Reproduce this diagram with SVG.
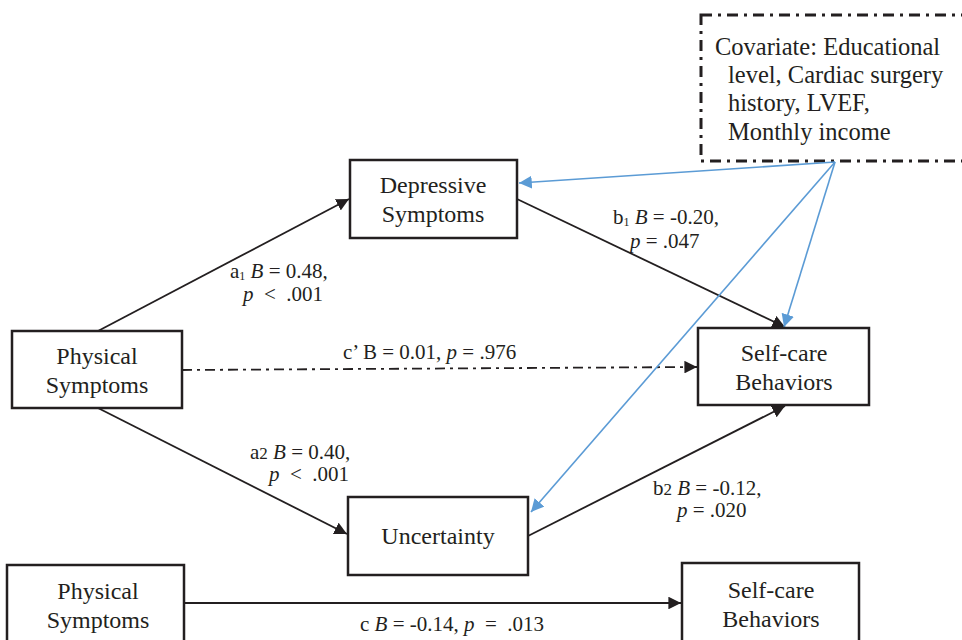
<svg xmlns="http://www.w3.org/2000/svg" width="962" height="640" viewBox="0 0 962 640">
<defs>
<style>
.box{fill:#fff;stroke:#231f20;stroke-width:2.5}
.nt{font-family:"Liberation Serif","Times New Roman",serif;font-size:24px;fill:#231f20;text-anchor:middle}
.lb{font-family:"Liberation Serif","Times New Roman",serif;font-size:21px;fill:#231f20}
.cv{font-family:"Liberation Serif","Times New Roman",serif;font-size:24.5px;fill:#231f20}
.blk{stroke:#231f20;stroke-width:1.8;fill:none;marker-end:url(#ab)}
.blu{stroke:#5b9bd5;stroke-width:1.6;fill:none;marker-end:url(#au)}
</style>
<marker id="ab" viewBox="0 0 10 10" refX="10" refY="5" markerWidth="7" markerHeight="7" markerUnits="strokeWidth" orient="auto"><path d="M0,0L10,5L0,10z" fill="#231f20"/></marker>
<marker id="au" viewBox="0 0 10 10" refX="10" refY="5" markerWidth="8" markerHeight="8" markerUnits="strokeWidth" orient="auto"><path d="M0,0L10,5L0,10z" fill="#5b9bd5"/></marker>
</defs>
<rect width="962" height="640" fill="#fff"/>
<g id="covariate">
<rect x="701" y="15" width="275" height="146" fill="none" stroke="#231f20" stroke-width="3" stroke-dasharray="11,6,3,6"/>
<text class="cv" x="715" y="55">Covariate: Educational</text>
<text class="cv" x="728" y="83">level, Cardiac surgery</text>
<text class="cv" x="728" y="111">history, LVEF,</text>
<text class="cv" x="728" y="140">Monthly income</text>
</g>
<g id="connectors">
<line class="blk" x1="98" y1="331" x2="349" y2="199"/>
<line class="blk" x1="517" y1="199" x2="785" y2="327"/>
<line class="blk" x1="98" y1="408" x2="347" y2="534"/>
<line class="blk" x1="528" y1="536" x2="785" y2="406"/>
<line class="blk" x1="182" y1="370" x2="697" y2="367" stroke-dasharray="10,5,3,5"/>
<line class="blk" x1="184" y1="603" x2="681" y2="603"/>
<line class="blu" x1="835" y1="162" x2="519" y2="183"/>
<line class="blu" x1="835" y1="162" x2="784" y2="327"/>
<line class="blu" x1="835" y1="162" x2="531" y2="512"/>
</g>
<g id="labels">
<text class="lb" x="230" y="278">a<tspan font-size="12" dy="2">1</tspan><tspan dy="-2"> <tspan font-style="italic">B</tspan> = 0.48,</tspan></text>
<text class="lb" x="243" y="301"><tspan font-style="italic">p</tspan>&#160; &lt;&#160; .001</text>
<text class="lb" x="613" y="224">b<tspan font-size="12" dy="2">1</tspan><tspan dy="-2"> <tspan font-style="italic">B</tspan> = -0.20,</tspan></text>
<text class="lb" x="630" y="248"><tspan font-style="italic">p</tspan> = .047</text>
<text class="lb" x="343" y="359">c’ B = 0.01, <tspan font-style="italic">p</tspan> = .976</text>
<text class="lb" x="250" y="459">a<tspan font-size="17">2</tspan> <tspan font-style="italic">B</tspan> = 0.40,</text>
<text class="lb" x="269" y="481"><tspan font-style="italic">p</tspan>&#160; &lt;&#160; .001</text>
<text class="lb" x="653" y="495">b<tspan font-size="17">2</tspan> <tspan font-style="italic">B</tspan> = -0.12,</text>
<text class="lb" x="677" y="517"><tspan font-style="italic">p</tspan> = .020</text>
<text class="lb" x="360" y="631">c <tspan font-style="italic">B</tspan> = -0.14, <tspan font-style="italic">p</tspan>&#160; =&#160; .013</text>
</g>
<g id="depressive">
<rect class="box" x="350" y="160" width="167" height="78"/>
<text class="nt" x="433" y="193">Depressive</text>
<text class="nt" x="433" y="222">Symptoms</text>
</g>
<g id="physical">
<rect class="box" x="12" y="331" width="170" height="77"/>
<text class="nt" x="97" y="364">Physical</text>
<text class="nt" x="97" y="393">Symptoms</text>
</g>
<g id="selfcare">
<rect class="box" x="698" y="328" width="171" height="77"/>
<text class="nt" x="784" y="361">Self-care</text>
<text class="nt" x="784" y="390">Behaviors</text>
</g>
<g id="uncertainty">
<rect class="box" x="348" y="497" width="180" height="78"/>
<text class="nt" x="438" y="544">Uncertainty</text>
</g>
<g id="physical2">
<rect class="box" x="7" y="565" width="177" height="90"/>
<text class="nt" x="98" y="599">Physical</text>
<text class="nt" x="98" y="628">Symptoms</text>
</g>
<g id="selfcare2">
<rect class="box" x="682" y="563" width="177" height="92"/>
<text class="nt" x="771" y="598">Self-care</text>
<text class="nt" x="771" y="627">Behaviors</text>
</g>
</svg>
